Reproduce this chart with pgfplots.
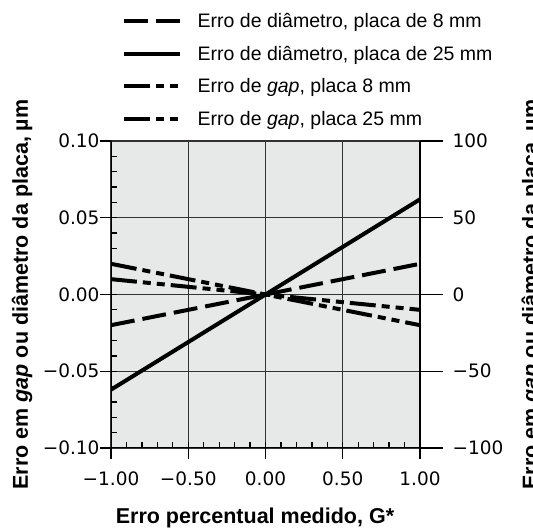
\documentclass[border=0pt]{standalone}
\usepackage{fontspec}
\setmainfont{Liberation Sans}
\newfontfamily\tickfont{DejaVu Sans}
\usepackage{pgfplots}
\pgfplotsset{compat=1.18}
\definecolor{plotbg}{RGB}{231,232,232}
\definecolor{gridc}{RGB}{50,50,50}

\begin{document}
\begin{tikzpicture}[x=1pt,y=1pt]
\path[use as bounding box] (0,0) rectangle (533,532);
% left axis: errors (arbitrary units)
\begin{axis}[
  at={(111pt,84pt)}, anchor=south west,
  scale only axis, width=309pt, height=307pt,
  xmin=-1, xmax=1, ymin=-0.1, ymax=0.1,
  axis background/.style={fill=plotbg},
  axis line style={line width=1.1pt, gridc},
  xtick={-1,-0.5,0,0.5,1},
  xticklabels={−1.00,−0.50,0.00,0.50,1.00},
  ytick={-0.1,-0.05,0,0.05,0.1},
  yticklabels={−0.10,−0.05,0.00,0.05,0.10},
  minor x tick num=4, minor y tick num=4,
  tick pos=left,
  tick align=inside, major tick length=6pt, minor tick length=6pt,
  tick style={line width=1.3pt, black},
  extra x ticks={-1,-0.5,0,0.5,1}, extra x tick labels={},
  extra y ticks={-0.1,-0.05,0,0.05,0.1}, extra y tick labels={},
  extra tick style={tick align=outside, major tick length=11pt, grid=none},
  grid=major, major grid style={gridc, line width=1.1pt},
  tick label style={font=\tickfont\fontsize{18.5}{20}\selectfont},
  xticklabel style={yshift=-20pt},
  yticklabel style={xshift=-8pt},
  xlabel={Erro percentual medido, G*},
  xlabel style={font=\bfseries\fontsize{21.5}{24}\selectfont,
    at={(axis description cs:0.466,-0.228)}, anchor=center},
  ylabel={Erro em \textit{gap} ou diâmetro da placa, µm},
  ylabel style={font=\bfseries\fontsize{21.5}{24}\selectfont,
    at={(axis description cs:-0.288,0.5)}, anchor=center},
  legend style={at={(axis description cs:0.0356,1.4234)}, anchor=north west,
    draw=none, fill=none, inner sep=0pt, column sep=13.5pt, row sep=13pt,
    font=\fontsize{19.5}{22}\selectfont, cells={anchor=west}},
  legend image code/.code={\draw[#1] (0pt,0pt) -- (56pt,0pt);},
]
\addplot[black, line width=4pt, dash pattern=on 24pt off 8pt] coordinates {(-1,-0.02) (1,0.02)};
\addlegendentry{Erro de diâmetro, placa de 8 mm}
\addplot[black, line width=4pt] coordinates {(-1,-0.062) (1,0.062)};
\addlegendentry{Erro de diâmetro, placa de 25 mm}
\addplot[black, line width=4pt, dash pattern=on 26pt off 6pt on 8pt off 6pt on 8pt off 6pt] coordinates {(-1,0.02) (1,-0.02)};
\addlegendentry{Erro de \textit{gap}, placa 8 mm}
\addplot[black, line width=4pt, dash pattern=on 26pt off 6pt on 8pt off 6pt on 8pt off 6pt] coordinates {(-1,0.01) (1,-0.01)};
\addlegendentry{Erro de \textit{gap}, placa 25 mm}
% dark left and bottom axis lines
\draw[black, line width=1.8pt] (rel axis cs:0,1) -- (rel axis cs:0,0) -- (rel axis cs:1,0);
\end{axis}
% right axis
\begin{axis}[
  at={(111pt,84pt)}, anchor=south west,
  scale only axis, width=309pt, height=307pt,
  xmin=-1, xmax=1, ymin=-100, ymax=100,
  axis x line=none, axis y line*=right,
  axis line style={line width=1.5pt, black},
  ytick={-100,-50,0,50,100},
  yticklabels={−100,−50,0,50,100},
  minor y tick num=0,
  tick align=outside, major tick length=23pt,
  tick style={line width=1.3pt, black},
  tick label style={font=\tickfont\fontsize{18.5}{20}\selectfont},
  yticklabel style={xshift=6pt},
  ylabel={Erro em \textit{gap} ou diâmetro da placa, µm},
  ylabel style={font=\bfseries\fontsize{21.5}{24}\selectfont,
    at={(axis description cs:1.362,0.5)}, anchor=center},
]
\addplot[draw=none] coordinates {(-1,0) (1,0)};
\end{axis}
\end{tikzpicture}
\end{document}
